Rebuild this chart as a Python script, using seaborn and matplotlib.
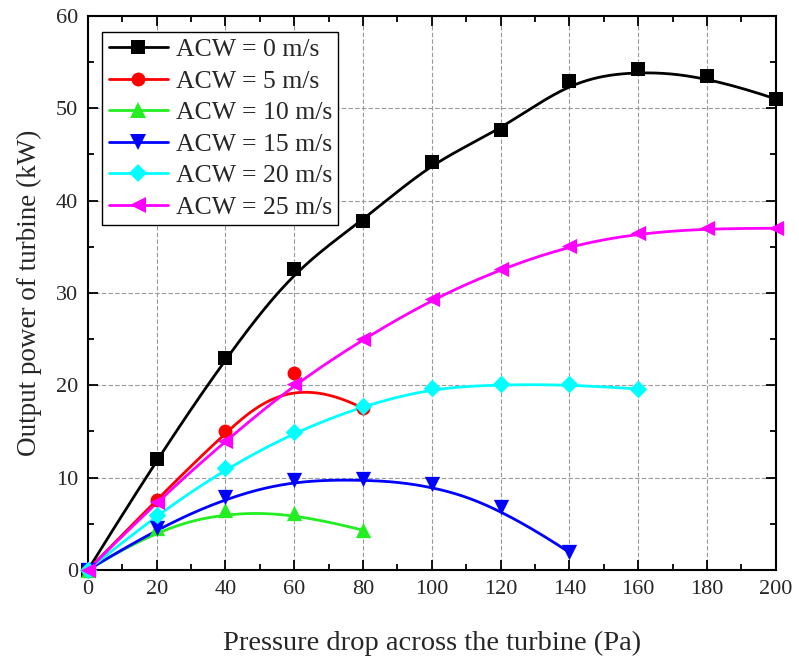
import numpy as np
import pandas as pd
import matplotlib
matplotlib.use("Agg")
import matplotlib.pyplot as plt
from matplotlib.lines import Line2D
from matplotlib.ticker import MultipleLocator
import seaborn as sns

# ---- data ----
pressure = [0, 20, 40, 60, 80, 100, 120, 140, 160, 180, 200]
acw0 = [0, 12.0, 23.0, 32.6, 37.8, 44.2, 47.6, 53.0, 54.2, 53.5, 51.0]
acw5 = [0, 7.6, 15.1, 21.3, 17.5]
acw10 = [0, 4.5, 6.5, 6.2, 4.3]
acw15 = [0, 4.5, 7.9, 9.7, 9.8, 9.3, 6.8, 1.9]
acw20 = [0, 6.0, 11.0, 14.9, 17.8, 19.7, 20.1, 20.1, 19.6]
acw25 = [0, 7.4, 14.0, 20.1, 25.0, 29.3, 32.6, 35.1, 36.5, 37.0, 37.0]
labels = ["ACW = 0 m/s", "ACW = 5 m/s", "ACW = 10 m/s",
          "ACW = 15 m/s", "ACW = 20 m/s", "ACW = 25 m/s"]
series = [acw0, acw5, acw10, acw15, acw20, acw25]
colors = ["#000000", "#FF0000", "#22EE22", "#0000FF", "#00FFFF", "#FF00FF"]
markers = ["s", "o", "^", "v", "D", "<"]
msizes = [10, 10, 11, 11, 9, 11]


def bspline(xs, ys, k=3, num=300):
    """Clamped cubic B-spline using data points as control points."""
    P = np.column_stack([xs, ys]).astype(float)
    n = len(P) - 1
    m = n + k + 1
    inner = np.linspace(0, 1, n - k + 2)
    knots = np.concatenate([np.zeros(k), inner, np.ones(k)])
    t = np.linspace(0, 1, num)
    t[-1] = 1 - 1e-10
    N = np.zeros((num, m))
    for i in range(m):
        N[:, i] = ((t >= knots[i]) & (t < knots[i + 1])).astype(float)
    for d in range(1, k + 1):
        Nn = np.zeros((num, m - d))
        for i in range(m - d):
            a = knots[i + d] - knots[i]
            b = knots[i + d + 1] - knots[i + 1]
            term = np.zeros(num)
            if a > 0:
                term += (t - knots[i]) / a * N[:, i]
            if b > 0:
                term += (knots[i + d + 1] - t) / b * N[:, i + 1]
            Nn[:, i] = term
        N = Nn
    C = N[:, : n + 1] @ P
    return C[:, 0], C[:, 1]


sns.set_theme(style="ticks")
plt.rcParams["font.family"] = ["Liberation Serif", "DejaVu Serif"]
plt.rcParams["mathtext.fontset"] = "stix"

fig = plt.figure(figsize=(7.99, 6.62), dpi=100)
ax = fig.add_axes([0.110, 0.139, 0.861, 0.837])

for ys, lab, c, mk, ms in zip(series, labels, colors, markers, msizes):
    xs = pressure[: len(ys)]
    sx, sy = bspline(xs, ys)
    sns.lineplot(x=sx, y=sy, ax=ax, color=c, linewidth=2.0, sort=False,
                 legend=False, zorder=3)
    df = pd.DataFrame({"x": xs, "y": ys})
    sns.scatterplot(data=df, x="x", y="y", ax=ax, color=c, marker=mk,
                    s=ms ** 2, linewidth=0, legend=False, zorder=4, clip_on=False)

ax.set_xlim(0, 200)
ax.set_ylim(0, 60)
ax.xaxis.set_major_locator(MultipleLocator(20))
ax.xaxis.set_minor_locator(MultipleLocator(10))
ax.yaxis.set_major_locator(MultipleLocator(10))
ax.yaxis.set_minor_locator(MultipleLocator(5))
ax.grid(True, which="major", color="#999999", linestyle=(0, (4, 2)), linewidth=0.8)
ax.set_axisbelow(True)
ax.tick_params(which="both", direction="in", top=True, right=True,
               labelsize=16, width=1.3, color="black", pad=7)
ax.tick_params(which="major", length=7)
ax.tick_params(which="minor", length=4)
for sp in ax.spines.values():
    sp.set_linewidth(1.5)
    sp.set_color("black")
ax.set_xlabel("Pressure drop across the turbine (Pa)", fontsize=20.5, labelpad=23)
ax.set_ylabel("Output power of turbine (kW)", fontsize=19.5, labelpad=10)

handles = [Line2D([0], [0], color=c, marker=mk, markersize=ms, linewidth=2.0,
                  markeredgewidth=0)
           for c, mk, ms in zip(colors, markers, msizes)]
leg = ax.legend(handles, labels, loc="upper left", bbox_to_anchor=(0.01, 0.985),
                fontsize=18.5, frameon=True, fancybox=False, edgecolor="black",
                framealpha=1, handlelength=2.3, labelspacing=0.33,
                borderpad=0.25, handletextpad=0.3, borderaxespad=0.3)
leg.get_frame().set_linewidth(1.0)

fig.savefig("out.png", dpi=100)
